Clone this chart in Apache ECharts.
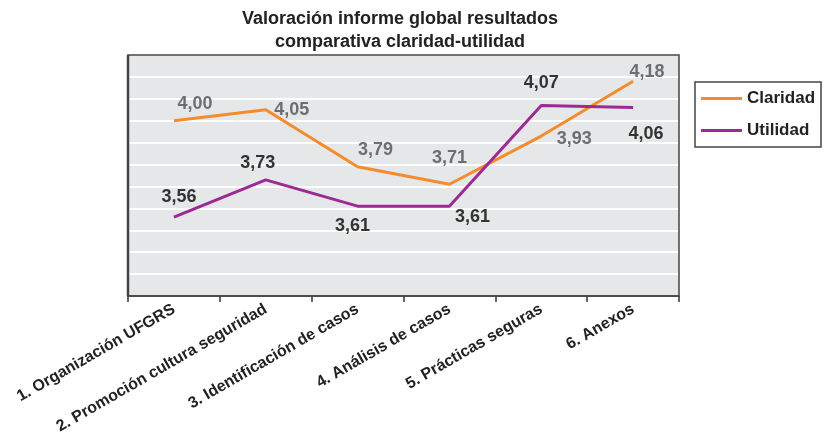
<!DOCTYPE html>
<html>
<head>
<meta charset="utf-8">
<script src="https://cdn.jsdelivr.net/npm/echarts@6/dist/echarts.min.js"></script>
<style>html,body{margin:0;padding:0;background:#fff}#c{width:834px;height:437px}</style>
</head>
<body>
<div id="c"></div>
<script>
const categories = ['1. Organización UFGRS','2. Promoción cultura seguridad','3. Identificación de casos','4. Análisis de casos','5. Prácticas seguras','6. Anexos'];
const claridad = [4.00, 4.05, 3.79, 3.71, 3.93, 4.18];
const utilidad = [3.56, 3.73, 3.61, 3.61, 4.07, 4.06];
const yMin = 3.2, yMax = 4.3, yStep = 0.1;

// label placement (style only)
const claridadOffsets = [[21,-17],[26,0],[18,-17],[0,-26],[33,3],[14,-9]];
const utilidadOffsets = [[5,-20],[-8,-17],[-5,20],[23,11],[0,-22],[13,26]];

// layout of plot area
const G = {left:128, top:55, width:551, height:241};

function fmt(v){ return v.toFixed(2).replace('.', ','); }
function build(vals, offs, color){
  return vals.map((v,i)=>({value:v, label:{offset:offs[i], color:color}}));
}
const FF = 'Liberation Sans, Arial, sans-serif';
const chart = echarts.init(document.getElementById('c'));
const labelBase = {show:true, position:'inside', align:'center', verticalAlign:'middle',
  fontFamily:FF, fontWeight:'bold', fontSize:18,
  formatter:p=>fmt(p.value)};
chart.setOption({
  animation:false,
  title:{text:'Valoración informe global resultados\ncomparativa claridad-utilidad',
    left:400, top:8, padding:0, textAlign:'center',
    textStyle:{fontFamily:FF, fontWeight:'bold', fontSize:18, lineHeight:23, color:'#222'}},
  legend:{orient:'vertical', left:695, top:82, padding:[8,6,8,6], itemGap:15,
    borderColor:'#444', borderWidth:1.5, icon:'rect', itemWidth:41, itemHeight:3,
    textStyle:{fontFamily:FF, fontWeight:'bold', fontSize:17, color:'#222'},
    data:['Claridad','Utilidad']},
  grid:{left:G.left, top:G.top, right:834-G.left-G.width, bottom:437-G.top-G.height,
    outerBoundsMode:'none', containLabel:false,
    show:true, backgroundColor:'#e6e7e8', borderWidth:0},
  graphic:[
    {type:'rect', z:100, silent:true, shape:{x:G.left, y:G.top, width:G.width, height:G.height},
      style:{fill:'none', stroke:'#444', lineWidth:1.5}},
    {type:'line', z:100, silent:true, shape:{x1:G.left, y1:G.top, x2:G.left, y2:G.top+G.height},
      style:{stroke:'#444', lineWidth:2.5}}
  ],
  xAxis:{type:'category', data:categories, boundaryGap:true,
    axisLine:{lineStyle:{color:'#333', width:1.5}},
    axisTick:{show:true, length:6, lineStyle:{color:'#333', width:1.5}},
    axisLabel:{rotate:30, interval:0, margin:12, color:'#222', fontFamily:FF, fontWeight:'bold', fontSize:16},
    splitLine:{show:false}},
  yAxis:{type:'value', min:yMin, max:yMax, interval:yStep,
    axisLabel:{show:false}, axisLine:{show:false}, axisTick:{show:false},
    splitLine:{show:true, lineStyle:{color:'#ffffff', width:2}}},
  series:[
    {name:'Claridad', type:'line', data:build(claridad, claridadOffsets, '#6d6e70'),
      symbol:'circle', symbolSize:0, showSymbol:true,
      lineStyle:{color:'#f58b2a', width:3}, itemStyle:{color:'#f58b2a'}, label:labelBase},
    {name:'Utilidad', type:'line', data:build(utilidad, utilidadOffsets, '#333333'),
      symbol:'circle', symbolSize:0, showSymbol:true,
      lineStyle:{color:'#9c2a94', width:3}, itemStyle:{color:'#9c2a94'}, label:labelBase}
  ]
});
</script>
</body>
</html>
